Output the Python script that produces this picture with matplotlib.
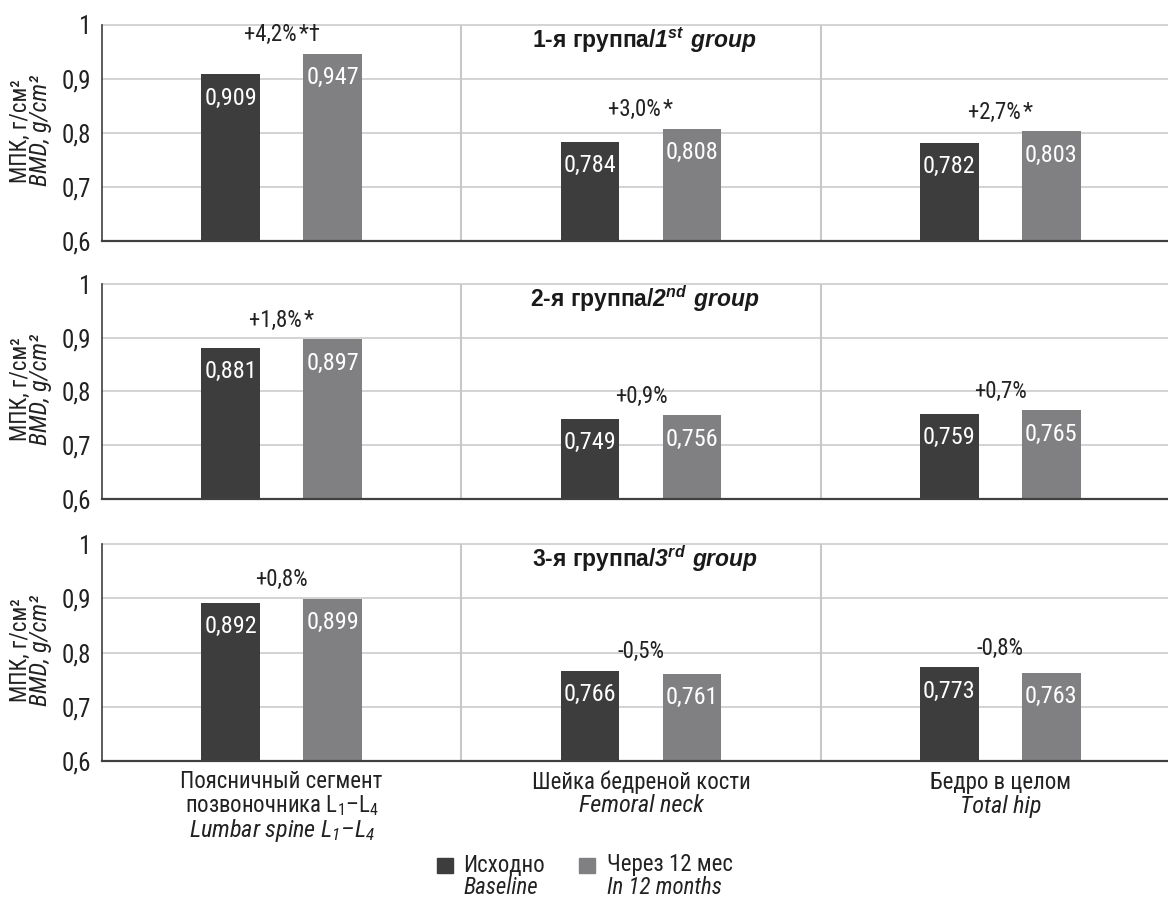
import matplotlib.pyplot as plt
from matplotlib import font_manager
from matplotlib.patches import Rectangle

# Bone mineral density by site, three groups, baseline vs 12 months
sites_ru = ["Поясничный сегмент\nпозвоночника $\\mathregular{L_1}$–$\\mathregular{L_4}$",
            "Шейка бедреной кости",
            "Бедро в целом"]
sites_en = ["Lumbar spine $\\mathregular{L_1}$–$\\mathregular{L_4}$",
            "Femoral neck",
            "Total hip"]

group_ru = ["1-я группа/", "2-я группа/", "3-я группа/"]
group_en = ["$\\mathbfit{1^{st}\\ group}$", "$\\mathbfit{2^{nd}\\ group}$", "$\\mathbfit{3^{rd}\\ group}$"]

baseline = [
    [0.909, 0.784, 0.782],
    [0.881, 0.749, 0.759],
    [0.892, 0.766, 0.773],
]
month12 = [
    [0.947, 0.808, 0.803],
    [0.897, 0.756, 0.765],
    [0.899, 0.761, 0.763],
]
changes = [
    ["+4,2%\u200a*†", "+3,0%\u200a*", "+2,7%\u200a*"],
    ["+1,8%\u200a*", "+0,9%", "+0,7%"],
    ["+0,8%", "-0,5%", "-0,8%"],
]

legend_ru = ["Исходно", "Через 12 мес"]
legend_en = ["Baseline", "In 12 months"]

yticks = [0.6, 0.7, 0.8, 0.9, 1.0]
ytick_labels = ["0,6", "0,7", "0,8", "0,9", "1"]

DARK = "#3d3d3d"
LIGHT = "#808083"
GRID = "#c8c8c8"
TXT = "#222222"

# pick a narrow sans if one is around
fonts = font_manager.fontManager.ttflist
names = {f.name for f in fonts}
stretch = "normal"
if "Liberation Sans Narrow" in names:
    family = "Liberation Sans Narrow"
elif "Roboto Condensed" in names:
    family = "Roboto Condensed"
elif any(f.name == "DejaVu Sans" and f.stretch == "condensed" for f in fonts):
    family, stretch = "DejaVu Sans", "condensed"
else:
    family = "Roboto"

plt.rcParams["font.family"] = [family, "DejaVu Sans"]
plt.rcParams["font.stretch"] = stretch
plt.rcParams["mathtext.fontset"] = "custom"
plt.rcParams["mathtext.bfit"] = "Liberation Sans:italic:bold"

W, H = 1168, 901
fig = plt.figure(figsize=(W / 100, H / 100), dpi=100)

# panel extents in pixels (top, bottom)
panels_px = [(25, 241), (284, 499), (544, 761)]
left_px, right_px = 102, 1180

bar_w = 0.164
offset = 0.142
x = [0, 1, 2]

axes = []
for i, (top, bot) in enumerate(panels_px):
    ax = fig.add_axes([left_px / W, 1 - bot / H, (right_px - left_px) / W, (bot - top) / H])
    axes.append(ax)
    ax.set_xlim(-0.5, 2.5)
    ax.set_ylim(0.6, 1.0)

    for yv in yticks[1:]:
        ax.axhline(yv, color=GRID, lw=1.1, zorder=0, clip_on=False)
    for xv in [0.5, 1.5]:
        ax.axvline(xv, color=GRID, lw=1.5, zorder=0)

    ax.bar([v - offset for v in x], [b - 0.6 for b in baseline[i]], bottom=0.6,
           width=bar_w, color=DARK, zorder=2)
    ax.bar([v + offset for v in x], [m - 0.6 for m in month12[i]], bottom=0.6,
           width=bar_w, color=LIGHT, zorder=2)

    # value labels inside bars, change labels above each pair
    for j in range(3):
        for xv, val in [(x[j] - offset, baseline[i][j]), (x[j] + offset, month12[i][j])]:
            ax.annotate(f"{val:.3f}".replace(".", ","), xy=(xv, val),
                        xytext=(0, -24), textcoords="offset pixels",
                        ha="center", va="center", color="white", fontsize=17.5, zorder=3)
        top_val = max(baseline[i][j], month12[i][j])
        ax.annotate(changes[i][j], xy=(x[j], top_val), xytext=(0, 19),
                    textcoords="offset pixels", ha="center", va="center",
                    fontsize=16.5, color=TXT)

    # group title
    ax.text(1.01, 1.0 - 23 / (bot - top), group_ru[i] + group_en[i],
            transform=ax.get_xaxis_transform(), ha="center", va="baseline",
            fontsize=16.5, fontweight="bold", family="Liberation Sans",
            fontstretch="normal", color="#1a1a1a")

    ax.set_yticks(yticks)
    ax.set_yticklabels(ytick_labels, fontsize=18, color=TXT)
    ax.set_xticks([])
    ax.tick_params(axis="y", length=0, pad=8)
    for s in ["top", "right"]:
        ax.spines[s].set_visible(False)
    ax.spines["left"].set_color("#404040")
    ax.spines["left"].set_linewidth(1.2)
    ax.spines["bottom"].set_color("#404040")
    ax.spines["bottom"].set_linewidth(1.6)

    # y axis title, two lines
    yc = 1 - ((top + bot) / 2 - 2) / H
    fig.text(20 / W, yc, "МПК, г/см²", rotation=90, ha="center", va="center",
             fontsize=16.5, color=TXT)
    fig.text(41 / W, yc, "BMD, g/cm²", rotation=90, ha="center", va="center",
             fontsize=17.5, fontstyle="italic", color=TXT)

# category labels under the last panel
ax = axes[-1]
for j in range(3):
    lines = [(t, "normal", 16.5) for t in sites_ru[j].split("\n")] + [(sites_en[j], "italic", 17.5)]
    for k, (txt, style, size) in enumerate(lines):
        ax.annotate(txt, xy=(x[j], 0), xycoords=("data", "axes fraction"),
                    xytext=(0, -21 - 24 * k), textcoords="offset pixels",
                    ha="center", va="center", fontsize=size, fontstyle=style, color=TXT)

# legend
for (sx, tx), color, ru, en in zip([(437, 463), (579, 607)], [DARK, LIGHT], legend_ru, legend_en):
    fig.add_artist(Rectangle((sx / W, 1 - 873 / H), 16 / W, 15 / H,
                             transform=fig.transFigure, color=color))
    fig.text(tx / W, 1 - 865 / H, ru, ha="left", va="center", fontsize=16.5, color=TXT)
    fig.text(tx / W, 1 - 888 / H, en, ha="left", va="center", fontsize=16.5,
             fontstyle="italic", color=TXT)

fig.savefig("out.png", dpi=100, facecolor="white")
